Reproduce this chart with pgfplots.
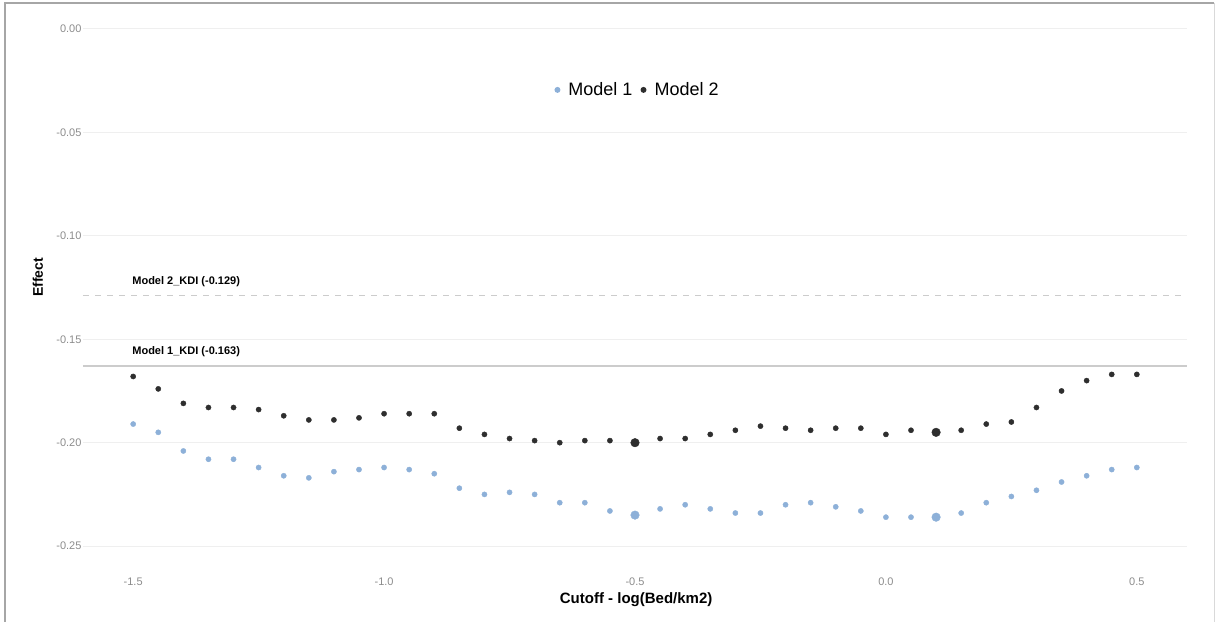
\documentclass[border=0pt]{standalone}
\usepackage{pgfplots}
\pgfplotsset{compat=1.18}
\usepackage{pgfplotstable}
\usepackage{fontspec}
\setmainfont{Liberation Sans}
\definecolor{mone}{HTML}{8DB0D8}
\definecolor{mtwo}{HTML}{2E2E2E}
\definecolor{tickgray}{HTML}{8C8C8C}
\definecolor{gridgray}{HTML}{EFEFEF}
\definecolor{refgray}{HTML}{CCCCCC}

\pgfplotstableread{
x y
-1.50 -0.191
-1.45 -0.195
-1.40 -0.204
-1.35 -0.208
-1.30 -0.208
-1.25 -0.212
-1.20 -0.216
-1.15 -0.217
-1.10 -0.214
-1.05 -0.213
-1.00 -0.212
-0.95 -0.213
-0.90 -0.215
-0.85 -0.222
-0.80 -0.225
-0.75 -0.224
-0.70 -0.225
-0.65 -0.229
-0.60 -0.229
-0.55 -0.233
-0.50 -0.235
-0.45 -0.232
-0.40 -0.230
-0.35 -0.232
-0.30 -0.234
-0.25 -0.234
-0.20 -0.230
-0.15 -0.229
-0.10 -0.231
-0.05 -0.233
0.00 -0.236
0.05 -0.236
0.10 -0.236
0.15 -0.234
0.20 -0.229
0.25 -0.226
0.30 -0.223
0.35 -0.219
0.40 -0.216
0.45 -0.213
0.50 -0.212
}\modelone

\pgfplotstableread{
x y
-1.50 -0.168
-1.45 -0.174
-1.40 -0.181
-1.35 -0.183
-1.30 -0.183
-1.25 -0.184
-1.20 -0.187
-1.15 -0.189
-1.10 -0.189
-1.05 -0.188
-1.00 -0.186
-0.95 -0.186
-0.90 -0.186
-0.85 -0.193
-0.80 -0.196
-0.75 -0.198
-0.70 -0.199
-0.65 -0.200
-0.60 -0.199
-0.55 -0.199
-0.50 -0.200
-0.45 -0.198
-0.40 -0.198
-0.35 -0.196
-0.30 -0.194
-0.25 -0.192
-0.20 -0.193
-0.15 -0.194
-0.10 -0.193
-0.05 -0.193
0.00 -0.196
0.05 -0.194
0.10 -0.195
0.15 -0.194
0.20 -0.191
0.25 -0.190
0.30 -0.183
0.35 -0.175
0.40 -0.170
0.45 -0.167
0.50 -0.167
}\modeltwo

\begin{document}
\begin{tikzpicture}[x=1pt,y=1pt]
\useasboundingbox (0,0) rectangle (1216,622);
\draw[color=black!35, line width=2pt] (5,0) -- (5,619) -- (1214,619);
\draw[color=black!15, line width=1pt] (1214,619) -- (1214,0);
\begin{axis}[
  at={(83pt,50pt)}, anchor=south west,
  scale only axis, width=1104pt, height=569pt,
  xmin=-1.6, xmax=0.6, ymin=-0.2625, ymax=0.0125,
  axis line style={draw=none},
  major tick length=0pt,
  xtick={-1.5,-1,-0.5,0,0.5},
  ytick={-0.25,-0.2,-0.15,-0.1,-0.05,0},
  ymajorgrids, grid style={color=gridgray, line width=1.2pt},
  /pgf/number format/assume math mode=true,
  xticklabel style={/pgf/number format/fixed, /pgf/number format/precision=1, /pgf/number format/fixed zerofill, font=\fontsize{11}{13}\selectfont, text=tickgray, yshift=-2pt},
  yticklabel style={/pgf/number format/fixed, /pgf/number format/precision=2, /pgf/number format/fixed zerofill, font=\fontsize{11}{13}\selectfont, text=tickgray, xshift=2pt},
  xlabel={Cutoff - log(Bed/km2)},
  ylabel={Effect},
  xlabel style={at={(axis description cs:0.501,-0.0492)}, anchor=center, font=\bfseries\fontsize{15}{18}\selectfont},
  ylabel style={at={(axis description cs:-0.0408,0.518)}, anchor=center, font=\bfseries\fontsize{14}{17}\selectfont},
  legend columns=2,
  legend style={at={(axis cs:-0.495,-0.0295)}, anchor=center, draw=none, fill=none,
    font=\fontsize{18}{21}\selectfont,
    /tikz/every even column/.append style={column sep=6pt},
    inner sep=0pt},
  legend image code/.code={\path[draw=none,fill=none] (0pt,-3pt) rectangle (12pt,3pt); \fill[#1, draw=none] (3pt,0pt) circle (3pt);},
  clip=false,
]
\addplot[only marks, mark=*, mark size=2.6pt, color=mone, mark options={draw=none, fill=mone}] table {\modelone};
\addlegendentry{Model 1}
\addplot[only marks, mark=*, mark size=2.6pt, color=mtwo, mark options={draw=none, fill=mtwo}] table {\modeltwo};
\addlegendentry{Model 2}
\addplot[forget plot, only marks, mark=*, mark size=4.3pt, color=mone, mark options={draw=none, fill=mone}] coordinates {(-0.5,-0.235) (0.1,-0.236)};
\addplot[forget plot, only marks, mark=*, mark size=4.3pt, color=mtwo, mark options={draw=none, fill=mtwo}] coordinates {(-0.5,-0.200) (0.1,-0.195)};
\addplot[forget plot, color=refgray, line width=1.2pt, dash pattern=on 6pt off 6pt] coordinates {(-1.6,-0.129) (0.6,-0.129)};
\addplot[forget plot, color=refgray, line width=2pt] coordinates {(-1.6,-0.163) (0.6,-0.163)};
\node[anchor=west, font=\bfseries\fontsize{11}{13}\selectfont, inner sep=0pt] at (axis cs:-1.502,-0.1223) {Model 2\_KDI (-0.129)};
\node[anchor=west, font=\bfseries\fontsize{11}{13}\selectfont, inner sep=0pt] at (axis cs:-1.502,-0.1562) {Model 1\_KDI (-0.163)};
\end{axis}
\end{tikzpicture}
\end{document}
